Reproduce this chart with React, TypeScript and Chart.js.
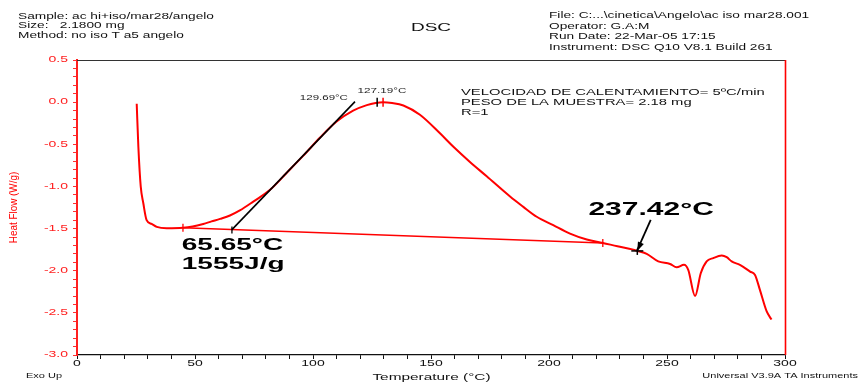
import React, { useEffect, useRef } from 'react';
import { Chart, registerables } from 'chart.js';

Chart.register(...registerables);

// ---- data ----
const temperature = [25.3, 26.0, 27.0, 28.1, 29.5, 31.6, 33.8, 38.0, 44.9, 49.0, 53.5, 57.0, 60.6, 64.8, 69.0, 74.7, 81.8, 88.8, 95.9, 103.0, 110.0, 117.0, 122.8, 126.5, 129.7, 133.5, 138.3, 145.3, 153.8, 159.5, 166.5, 173.6, 183.5, 189.0, 194.8, 201.8, 208.9, 216.0, 222.8, 229.0, 235.7, 237.4, 241.4, 246.3, 251.3, 254.1, 257.2, 259.0, 261.9, 264.3, 266.8, 269.6, 273.2, 275.3, 277.4, 280.9, 285.2, 287.3, 289.4, 292.2, 294.3];
const heatFlow = [-0.02, -0.53, -1.0, -1.2, -1.4, -1.445, -1.48, -1.495, -1.49, -1.475, -1.445, -1.415, -1.385, -1.345, -1.285, -1.18, -1.04, -0.84, -0.635, -0.42, -0.23, -0.1, -0.035, -0.01, 0.0, -0.01, -0.04, -0.15, -0.37, -0.53, -0.71, -0.88, -1.12, -1.24, -1.36, -1.46, -1.56, -1.63, -1.67, -1.71, -1.75, -1.765, -1.8, -1.89, -1.92, -1.96, -1.93, -1.99, -2.3, -2.03, -1.89, -1.85, -1.82, -1.84, -1.89, -1.93, -2.01, -2.05, -2.23, -2.48, -2.58];

const baselineT = [44.9, 222.8];
const baselineHF = [-1.49, -1.67];
const tangentT = [65.55, 117.8];
const tangentHF = [-1.516, 0.006];

const xMajorTicks = [0, 50, 100, 150, 200, 250, 300];
const yMajorTicks = [0.5, 0.0, -0.5, -1.0, -1.5, -2.0, -2.5, -3.0];

const headerLeft = ['Sample: ac hi+iso/mar28/angelo', 'Size:   2.1800 mg', 'Method: no iso T a5 angelo'];
const headerRight = ['File: C:...\\cinetica\\Angelo\\ac iso mar28.001', 'Operator: G.A:M', 'Run Date: 22-Mar-05 17:15', 'Instrument: DSC Q10 V8.1 Build 261'];
const notes = ['VELOCIDAD DE CALENTAMIENTO= 5ºC/min', 'PESO DE LA MUESTRA= 2.18 mg', 'R=1'];

// annotation values
const onsetT = 65.65;
const onsetLabel = '65.65°C';
const enthalpyLabel = '1555J/g';
const peakT1 = 127.19;
const peakT2 = 129.69;
const eventT = 237.42;
const eventLabel = '237.42°C';

const FONT = '"Liberation Sans", Arial, Helvetica, sans-serif';

function drawText(ctx: CanvasRenderingContext2D, s: string, x: number, y: number, size: number, o: any = {}) {
  const { bold = false, color = '#111', align = 'left', sx = 1, sy = 0.6, rot = 0 } = o;
  ctx.save();
  ctx.translate(x, y);
  if (rot) ctx.rotate(rot);
  ctx.scale(sx, sy);
  ctx.font = `${bold ? 'bold ' : ''}${size}px ${FONT}`;
  ctx.fillStyle = color;
  ctx.textAlign = align;
  ctx.textBaseline = 'middle';
  ctx.fillText(s, 0, 0);
  ctx.restore();
}

function line(ctx: CanvasRenderingContext2D, x1: number, y1: number, x2: number, y2: number, color: string, w = 1) {
  ctx.save();
  ctx.strokeStyle = color;
  ctx.lineWidth = w;
  ctx.beginPath();
  ctx.moveTo(x1, y1);
  ctx.lineTo(x2, y2);
  ctx.stroke();
  ctx.restore();
}

function interpHF(t: number) {
  for (let i = 0; i < temperature.length - 1; i++) {
    if (t >= temperature[i] && t <= temperature[i + 1]) {
      const f = (t - temperature[i]) / (temperature[i + 1] - temperature[i]);
      return heatFlow[i] + f * (heatFlow[i + 1] - heatFlow[i]);
    }
  }
  return heatFlow[heatFlow.length - 1];
}

function baselineAt(t: number) {
  const f = (t - baselineT[0]) / (baselineT[1] - baselineT[0]);
  return baselineHF[0] + f * (baselineHF[1] - baselineHF[0]);
}

const decorPlugin = {
  id: 'decor',
  beforeDraw(chart: any) {
    const { ctx, width, height } = chart;
    ctx.save();
    ctx.fillStyle = '#ffffff';
    ctx.fillRect(0, 0, width, height);
    ctx.restore();
  },
  afterDraw(chart: any) {
    const { ctx, chartArea: ca } = chart;
    const xs = chart.scales.x;
    const ys = chart.scales.y;
    const px = (v: number) => xs.getPixelForValue(v);
    const py = (v: number) => ys.getPixelForValue(v);

    // frame: top black, right red
    line(ctx, ca.left, ca.top + 0.5, ca.right, ca.top + 0.5, '#333', 1);
    line(ctx, ca.right + 0.5, ca.top, ca.right + 0.5, ca.bottom, '#ff0000', 1.6);

    // tick labels
    ys.ticks.forEach((t: any) => {
      if (yMajorTicks.some((m) => Math.abs(m - t.value) < 1e-6)) {
        drawText(ctx, t.value.toFixed(1), ca.left - 9, py(t.value), 14, { color: '#ff2020', align: 'right', sy: 0.6 });
      }
    });
    xs.ticks.forEach((t: any) => {
      if (xMajorTicks.some((m) => Math.abs(m - t.value) < 1e-6)) {
        drawText(ctx, String(Math.round(t.value)), px(t.value), ca.bottom + 9, 14, { color: '#111', align: 'center', sy: 0.6 });
      }
    });

    // axis titles and footers
    drawText(ctx, 'Heat Flow (W/g)', 13.5, (ca.top + ca.bottom) / 2, 11, { color: '#ff0000', align: 'center', rot: -Math.PI / 2, sx: 0.9, sy: 1 });
    drawText(ctx, 'Temperature (°C)', 431.5, 377, 15.4, { align: 'center', sy: 0.62 });
    drawText(ctx, 'Exo Up', 26, 376, 11, { sy: 0.65 });
    drawText(ctx, 'Universal V3.9A TA Instruments', 858, 376, 11, { align: 'right', sy: 0.65 });

    // header
    headerLeft.forEach((s, i) => drawText(ctx, s, 18, 16.7 + i * 9.4, 13.7, { sy: 0.62 }));
    headerRight.forEach((s, i) => drawText(ctx, s, 549, 16 + i * 10.5, 13.7, { sy: 0.62 }));
    drawText(ctx, 'DSC', 431, 28, 19, { align: 'center', sy: 0.62 });

    // notes
    notes.forEach((s, i) => drawText(ctx, s, 461, 92.3 + i * 10.1, 14.8, { sy: 0.62 }));

    // peak markers
    const peakY = py(interpHF(peakT2));
    line(ctx, px(peakT1), peakY - 4.5, px(peakT1), peakY + 4.5, '#000', 1.5);
    line(ctx, px(peakT2), peakY - 4.5, px(peakT2), peakY + 4.5, '#ff0000', 1.5);
    drawText(ctx, `${peakT2.toFixed(2)}°C`, px(114.8), py(0.046), 11.5, { align: 'right', sy: 0.62, color: '#222' });
    drawText(ctx, `${peakT1.toFixed(2)}°C`, px(118.9), py(0.133), 11.7, { sy: 0.62, color: '#222' });

    // baseline end markers
    const b0x = px(baselineT[0]);
    const b0y = py(baselineHF[0]);
    line(ctx, b0x, b0y - 4, b0x, b0y + 4, '#ff0000', 1.3);
    const b1x = px(baselineT[1]);
    const b1y = py(baselineHF[1]);
    line(ctx, b1x, b1y - 4, b1x, b1y + 4, '#ff0000', 1.3);

    // onset marker
    const ox = px(onsetT);
    const oy = py(baselineAt(onsetT));
    line(ctx, ox, oy - 3, ox, oy + 4, '#000', 1.3);
    drawText(ctx, onsetLabel, px(44.4), py(-1.70), 28, { bold: true, sy: 0.6, color: '#000' });
    drawText(ctx, enthalpyLabel, px(44.4), py(-1.92), 28, { bold: true, sy: 0.6, color: '#000' });

    // event marker with arrow
    const ex = px(eventT);
    const ey = py(interpHF(eventT));
    line(ctx, ex - 6, ey, ex + 6, ey, '#000', 1.5);
    line(ctx, ex, ey - 2, ex, ey + 4, '#000', 1.5);
    const ax = px(243.1);
    const ay = py(-1.397);
    line(ctx, ax, ay, ex, ey - 1, '#000', 1.8);
    const ang = Math.atan2(ey - ay, ex - ax);
    ctx.save();
    ctx.fillStyle = '#000';
    ctx.beginPath();
    ctx.moveTo(ex, ey);
    ctx.lineTo(ex - 9 * Math.cos(ang) + 3.2 * Math.sin(ang), ey - 9 * Math.sin(ang) - 3.2 * Math.cos(ang));
    ctx.lineTo(ex - 9 * Math.cos(ang) - 3.2 * Math.sin(ang), ey - 9 * Math.sin(ang) + 3.2 * Math.cos(ang));
    ctx.closePath();
    ctx.fill();
    ctx.restore();
    drawText(ctx, eventLabel, px(216.7), py(-1.28), 30, { bold: true, sy: 0.62, color: '#000' });
  },
};

export default function App() {
  const ref = useRef<HTMLCanvasElement | null>(null);
  useEffect(() => {
    if (!ref.current) return;
    const curve = temperature.map((t, i) => ({ x: t, y: heatFlow[i] }));
    const base = baselineT.map((t, i) => ({ x: t, y: baselineHF[i] }));
    const tang = tangentT.map((t, i) => ({ x: t, y: tangentHF[i] }));
    const chart = new Chart(ref.current, {
      type: 'line',
      data: {
        datasets: [
          { data: tang, borderColor: '#000000', borderWidth: 1.6, pointRadius: 0 },
          { data: curve, borderColor: '#ff0000', borderWidth: 2, pointRadius: 0, cubicInterpolationMode: 'monotone' },
          { data: base, borderColor: '#ff0000', borderWidth: 1.5, pointRadius: 0 },
        ],
      } as any,
      options: {
        responsive: false,
        animation: false,
        layout: { padding: { left: 0, top: 60, right: 74, bottom: 0 } },
        plugins: { legend: { display: false }, tooltip: { enabled: false } },
        scales: {
          x: {
            type: 'linear',
            min: 0,
            max: 300,
            ticks: { display: false, stepSize: 10, maxTicksLimit: 100 },
            grid: { display: true, drawOnChartArea: false, drawTicks: true, tickLength: 4, color: '#111', tickColor: '#111' },
            border: { display: true, color: '#111', width: 1.2 },
            afterFit: (s: any) => { s.height = 28; },
          },
          y: {
            type: 'linear',
            min: -3,
            max: 0.5,
            ticks: { display: false, stepSize: 0.1, maxTicksLimit: 100 },
            grid: { display: true, drawOnChartArea: false, drawTicks: true, tickLength: 4, color: '#ff3030', tickColor: '#ff3030' },
            border: { display: true, color: '#ff2020', width: 2 },
            afterFit: (s: any) => { s.width = 77; },
          },
        },
      } as any,
      plugins: [decorPlugin],
    });
    return () => chart.destroy();
  }, []);
  return (
    <div style={{ position: 'fixed', left: 0, top: 0, width: 859, height: 383, background: '#fff' }}>
      <canvas ref={ref} width={859} height={383} style={{ display: 'block', width: 859, height: 383 }} />
    </div>
  );
}
